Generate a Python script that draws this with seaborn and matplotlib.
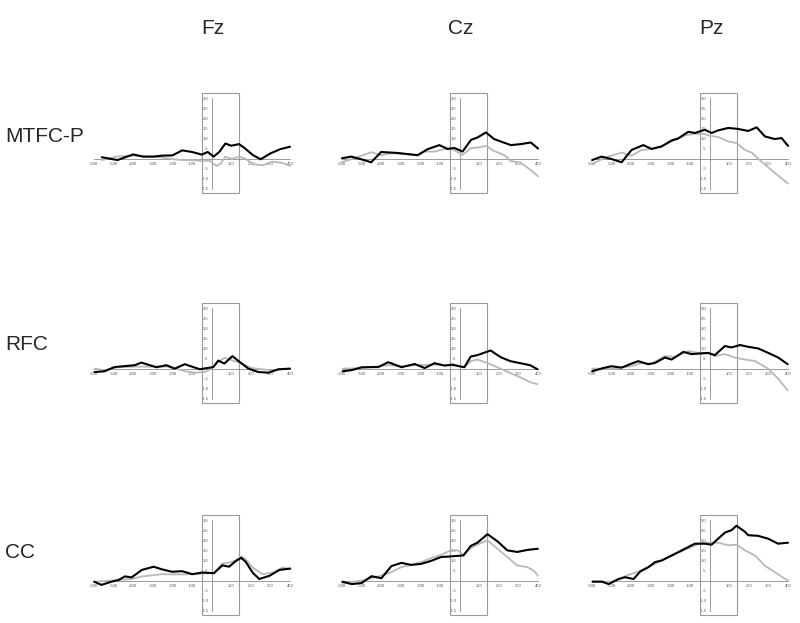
import matplotlib
matplotlib.use("Agg")
import matplotlib.pyplot as plt
import seaborn as sns
import pandas as pd

# electrode columns and condition rows
electrodes = ['Fz', 'Cz', 'Pz']
conditions = ['MTFC-P', 'RFC', 'CC']

# MTFC-P
fz_mtfc_t1 = [-560, -480, -400, -350, -300, -250, -200, -150, -100, -50, -20, 10, 40, 70, 100, 140, 170, 210, 250, 300, 350, 400]
fz_mtfc_v1 = [0.07, -0.07, 0.21, 0.10, 0.10, 0.15, 0.16, 0.41, 0.33, 0.20, 0.33, 0.10, 0.34, 0.75, 0.64, 0.72, 0.51, 0.18, -0.03, 0.26, 0.47, 0.59]
fz_mtfc_t2 = [-560, -480, -400, -300, -250, -200, -150, -100, -50, -10, 25, 45, 70, 105, 140, 175, 210, 260, 310, 360, 400]
fz_mtfc_v2 = [-0.07, 0.11, 0.15, 0.10, 0.05, -0.03, -0.07, -0.07, -0.11, -0.10, -0.36, -0.26, 0.10, -0.02, 0.11, -0.02, -0.26, -0.33, -0.15, -0.21, -0.36]

cz_mtfc_t1 = [-600, -553, -502, -451, -400, -315, -214, -163, -103, -61, -27, 15, 58, 92, 134, 176, 210, 261, 312, 363, 400]
cz_mtfc_v1 = [0.02, 0.10, -0.03, -0.18, 0.33, 0.28, 0.17, 0.47, 0.67, 0.48, 0.53, 0.35, 0.93, 1.05, 1.30, 0.97, 0.85, 0.67, 0.72, 0.80, 0.50]
cz_mtfc_t2 = [-600, -536, -451, -400, -349, -264, -214, -180, -129, -78, -36, 15, 58, 92, 134, 176, 227, 261, 312, 363, 400]
cz_mtfc_v2 = [-0.17, 0.02, 0.32, 0.17, 0.27, 0.22, 0.18, 0.35, 0.35, 0.47, 0.47, 0.18, 0.52, 0.55, 0.63, 0.38, 0.18, -0.12, -0.20, -0.57, -0.87]

pz_mtfc_t1 = [-599, -551, -500, -449, -398, -338, -296, -245, -194, -160, -109, -75, -24, 10, 44, 95, 146, 197, 240, 282, 333, 367, 400]
pz_mtfc_v1 = [-0.07, 0.10, -0.02, -0.18, 0.43, 0.67, 0.48, 0.60, 0.90, 1.00, 1.33, 1.27, 1.43, 1.27, 1.40, 1.52, 1.47, 1.37, 1.55, 1.10, 0.97, 1.02, 0.63]
pz_mtfc_t2 = [-599, -534, -449, -398, -347, -296, -245, -194, -126, -75, -24, 0, 44, 95, 138, 180, 214, 265, 316, 367, 400]
pz_mtfc_v2 = [-0.27, 0.05, 0.30, 0.15, 0.43, 0.48, 0.63, 0.85, 1.15, 1.23, 1.22, 1.13, 1.07, 0.85, 0.77, 0.43, 0.30, -0.15, -0.57, -0.98, -1.23]

# RFC
fz_rfc_t1 = [-597, -546, -495, -392, -358, -282, -230, -188, -137, -60, 9, 34, 65, 106, 154, 188, 239, 290, 341, 400]
fz_rfc_v1 = [-0.17, -0.13, 0.08, 0.17, 0.30, 0.07, 0.17, 0.00, 0.22, -0.03, 0.08, 0.40, 0.25, 0.62, 0.25, 0.00, -0.17, -0.20, -0.03, 0.00]
fz_rfc_t2 = [-597, -546, -478, -392, -307, -222, -171, -137, -85, -34, 0, 34, 68, 102, 154, 205, 256, 307, 400]
fz_rfc_v2 = [0.00, -0.08, 0.07, 0.10, 0.10, 0.10, -0.03, -0.13, -0.20, -0.17, 0.00, 0.34, 0.54, 0.42, 0.25, 0.03, -0.03, -0.08, 0.00]

cz_rfc_t1 = [-596, -549, -498, -414, -364, -296, -229, -178, -128, -77, -35, -2, 24, 57, 91, 158, 209, 259, 310, 360, 397]
cz_rfc_v1 = [-0.13, -0.07, 0.07, 0.08, 0.32, 0.07, 0.23, 0.03, 0.27, 0.15, 0.20, 0.12, 0.07, 0.60, 0.67, 0.90, 0.57, 0.37, 0.27, 0.17, -0.03]
cz_rfc_t2 = [-596, -498, -364, -296, -229, -128, -61, -2, 24, 57, 91, 141, 209, 259, 310, 360, 397]
cz_rfc_v2 = [0.00, 0.03, 0.17, 0.13, 0.17, 0.20, 0.17, 0.12, 0.07, 0.37, 0.45, 0.28, 0.00, -0.22, -0.43, -0.67, -0.77]

pz_rfc_t1 = [-599, -534, -500, -449, -398, -364, -313, -279, -228, -194, -134, -92, -49, -7, 27, 78, 112, 155, 197, 248, 299, 350, 398]
pz_rfc_v1 = [-0.13, 0.05, 0.12, 0.05, 0.25, 0.37, 0.22, 0.28, 0.55, 0.45, 0.83, 0.72, 0.75, 0.78, 0.67, 1.12, 1.05, 1.17, 1.08, 1.00, 0.78, 0.55, 0.22]
pz_rfc_t2 = [-599, -500, -398, -347, -296, -228, -177, -109, -58, -7, 27, 78, 129, 180, 231, 299, 350, 398]
pz_rfc_v2 = [0.00, 0.00, 0.12, 0.28, 0.25, 0.62, 0.58, 0.87, 0.78, 0.75, 0.62, 0.72, 0.55, 0.45, 0.38, 0.00, -0.50, -1.08]

# CC
fz_cc_t1 = [-599, -562, -510, -476, -442, -408, -356, -296, -253, -202, -151, -99, -48, 12, 55, 89, 123, 151, 175, 209, 243, 295, 346, 401]
fz_cc_v1 = [-0.05, -0.21, -0.05, 0.03, 0.21, 0.16, 0.53, 0.69, 0.56, 0.44, 0.47, 0.32, 0.40, 0.37, 0.76, 0.69, 0.97, 1.13, 0.92, 0.40, 0.08, 0.24, 0.53, 0.60]
fz_cc_t2 = [-599, -510, -408, -356, -296, -253, -202, -151, -99, -14, 12, 55, 89, 123, 151, 175, 209, 260, 312, 363, 401]
fz_cc_v2 = [-0.05, 0.00, 0.08, 0.21, 0.27, 0.32, 0.31, 0.31, 0.32, 0.37, 0.37, 0.85, 0.89, 1.00, 1.21, 1.05, 0.65, 0.32, 0.40, 0.65, 0.56]

cz_cc_t1 = [-598, -551, -500, -449, -399, -348, -297, -247, -196, -145, -95, -44, 20, 57, 91, 142, 193, 243, 294, 345, 399]
cz_cc_v1 = [-0.05, -0.17, -0.12, 0.22, 0.12, 0.72, 0.88, 0.78, 0.83, 0.98, 1.17, 1.20, 1.25, 1.72, 1.88, 2.30, 1.95, 1.50, 1.42, 1.52, 1.58]
cz_cc_t2 = [-598, -500, -399, -348, -297, -247, -196, -145, -95, -44, -10, 20, 57, 91, 142, 193, 243, 294, 345, 378, 399]
cz_cc_v2 = [-0.12, 0.00, 0.25, 0.42, 0.67, 0.78, 0.92, 1.12, 1.28, 1.50, 1.50, 1.28, 1.62, 1.78, 2.00, 1.58, 1.17, 0.75, 0.67, 0.50, 0.25]

pz_cc_t1 = [-597, -549, -515, -464, -431, -388, -354, -312, -278, -244, -193, -142, -108, -75, -24, 10, 44, 78, 112, 137, 180, 197, 247, 298, 349, 400]
pz_cc_v1 = [-0.05, -0.05, -0.17, 0.08, 0.17, 0.08, 0.45, 0.67, 0.92, 1.00, 1.25, 1.50, 1.67, 1.83, 1.83, 1.78, 2.08, 2.38, 2.50, 2.72, 2.42, 2.25, 2.22, 2.08, 1.83, 1.88]
pz_cc_t2 = [-597, -498, -431, -363, -295, -227, -159, -92, -41, 0, 44, 95, 137, 180, 231, 281, 332, 400]
pz_cc_v2 = [-0.05, -0.05, 0.22, 0.45, 0.75, 1.08, 1.38, 1.67, 1.88, 1.88, 1.88, 1.75, 1.78, 1.50, 1.25, 0.75, 0.42, 0.00]

panels = {
    ('MTFC-P', 'Fz'): (fz_mtfc_t1, fz_mtfc_v1, fz_mtfc_t2, fz_mtfc_v2),
    ('MTFC-P', 'Cz'): (cz_mtfc_t1, cz_mtfc_v1, cz_mtfc_t2, cz_mtfc_v2),
    ('MTFC-P', 'Pz'): (pz_mtfc_t1, pz_mtfc_v1, pz_mtfc_t2, pz_mtfc_v2),
    ('RFC', 'Fz'): (fz_rfc_t1, fz_rfc_v1, fz_rfc_t2, fz_rfc_v2),
    ('RFC', 'Cz'): (cz_rfc_t1, cz_rfc_v1, cz_rfc_t2, cz_rfc_v2),
    ('RFC', 'Pz'): (pz_rfc_t1, pz_rfc_v1, pz_rfc_t2, pz_rfc_v2),
    ('CC', 'Fz'): (fz_cc_t1, fz_cc_v1, fz_cc_t2, fz_cc_v2),
    ('CC', 'Cz'): (cz_cc_t1, cz_cc_v1, cz_cc_t2, cz_cc_v2),
    ('CC', 'Pz'): (pz_cc_t1, pz_cc_v1, pz_cc_t2, pz_cc_v2),
}

x_ticks = [-600, -500, -400, -300, -200, -100, 100, 200, 300, 400]
y_ticks = [3.0, 2.5, 2.0, 1.5, 1.0, 0.5, -0.5, -1.0, -1.5]
y_tick_labels = ['3.0', '2.5', '2.0', '1.5', '1.0', '.5', '-.5', '-1.0', '-1.5']
window = (-50, 140)

sns.set_style("white")
plt.rcParams['font.family'] = ['Liberation Sans', 'DejaVu Sans']

W, H = 800, 623
fig = plt.figure(figsize=(8, 6.23), dpi=100)

col_left = [92, 340, 590]
row_top = [92, 302, 514]
ax_w, ax_h = 200, 103

for r, cond in enumerate(conditions):
    for c, elec in enumerate(electrodes):
        ax = fig.add_axes([col_left[c] / W, 1 - (row_top[r] + ax_h) / H, ax_w / W, ax_h / H])
        t1, v1, t2, v2 = panels[(cond, elec)]
        df1 = pd.DataFrame({'time': t1, 'amp': v1})
        df2 = pd.DataFrame({'time': t2, 'amp': v2})
        sns.lineplot(data=df2, x='time', y='amp', ax=ax, color='#b8b8b8', linewidth=1.3, zorder=3)
        sns.lineplot(data=df1, x='time', y='amp', ax=ax, color='black', linewidth=1.5, zorder=4)

        # analysis window
        ax.add_patch(plt.Rectangle((window[0], -1.72), window[1] - window[0], 4.97,
                                   fill=False, edgecolor='#9a9a9a', linewidth=0.8, zorder=2))

        ax.set_xlim(-610, 410)
        ax.set_ylim(-1.8, 3.3)
        for side in ['top', 'right']:
            ax.spines[side].set_visible(False)
        ax.spines['left'].set_position(('data', 0))
        ax.spines['bottom'].set_position(('data', 0))
        ax.spines['left'].set_bounds(-1.5, 3.0)
        ax.spines['bottom'].set_bounds(-600, 400)
        for side in ['left', 'bottom']:
            ax.spines[side].set_color('#8c8c8c')
            ax.spines[side].set_linewidth(0.6)
        ax.set_xticks(x_ticks)
        ax.set_xticklabels([str(t) for t in x_ticks])
        ax.set_yticks(y_ticks)
        ax.set_yticklabels(y_tick_labels)
        ax.tick_params(axis='both', labelsize=3, colors='#555555', length=1.5, width=0.5,
                       pad=1.5, direction='inout')
        ax.set_xlabel('')
        ax.set_ylabel('')
        ax.patch.set_alpha(0)

# column titles
for c, elec in enumerate(electrodes):
    fig.text((col_left[c] + 121) / W, 1 - 28 / H, elec, fontsize=15, ha='center', va='center')

# row labels
row_y = [137, 345, 553]
for r, cond in enumerate(conditions):
    fig.text(5 / W, 1 - row_y[r] / H, cond, fontsize=15, ha='left', va='center')

fig.savefig('out.png', dpi=100)
plt.close(fig)
